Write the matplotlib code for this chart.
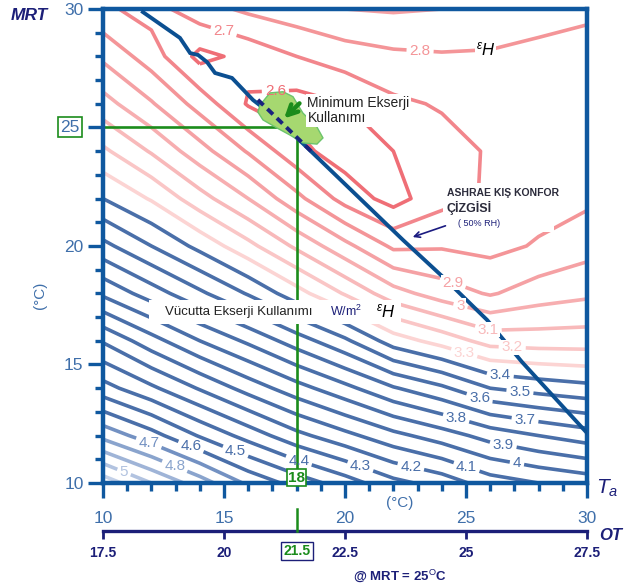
import numpy as np
import matplotlib
matplotlib.use('Agg')
import matplotlib.pyplot as plt
from matplotlib.patches import Polygon, Rectangle
from matplotlib.lines import Line2D

plt.rcParams['font.family'] = ['Liberation Sans', 'DejaVu Sans']
plt.rcParams['mathtext.fontset'] = 'custom'
plt.rcParams['mathtext.it'] = 'Liberation Sans:italic'
plt.rcParams['mathtext.rm'] = 'Liberation Sans'
plt.rcParams['mathtext.bf'] = 'Liberation Sans:bold'

W, H = 626, 585

# air temperature Ta (x) and mean radiant temperature MRT (y), degC
ta_grid = [10, 12, 14, 16, 18, 20, 22, 24, 26, 28, 30]
mrt_grid = [10, 12, 14, 16, 18, 20, 22, 24, 26, 28, 30]

# body exergy consumption rate (W/m2), one row per MRT
exergy = [
    [5.16, 5.00, 4.85, 4.68, 4.56, 4.45, 4.33, 4.26, 4.15, 4.10, 4.06],
    [4.77, 4.64, 4.49, 4.36, 4.23, 4.13, 4.03, 3.95, 3.86, 3.80, 3.75],
    [4.44, 4.32, 4.19, 4.06, 3.94, 3.83, 3.71, 3.62, 3.50, 3.46, 3.43],
    [4.19, 4.04, 3.90, 3.78, 3.65, 3.52, 3.35, 3.26, 3.16, 3.15, 3.15],
    [3.88, 3.75, 3.62, 3.49, 3.34, 3.19, 3.04, 2.95, 2.89, 2.95, 2.98],
    [3.63, 3.50, 3.37, 3.23, 3.08, 2.93, 2.78, 2.79, 2.77, 2.81, 2.86],
    [3.40, 3.29, 3.14, 3.00, 2.83, 2.66, 2.56, 2.67, 2.71, 2.76, 2.78],
    [3.22, 3.09, 2.94, 2.79, 2.63, 2.55, 2.60, 2.66, 2.71, 2.74, 2.76],
    [3.04, 2.91, 2.76, 2.59, 2.56, 2.60, 2.68, 2.71, 2.74, 2.75, 2.76],
    [2.88, 2.75, 2.57, 2.63, 2.70, 2.75, 2.78, 2.79, 2.79, 2.78, 2.78],
    [2.72, 2.66, 2.76, 2.82, 2.86, 2.90, 2.91, 2.90, 2.86, 2.83, 2.81],
]

levels = [2.6, 2.7, 2.8, 2.9, 3.0, 3.1, 3.2, 3.3, 3.4, 3.5, 3.6, 3.7, 3.8,
          3.9, 4.0, 4.1, 4.2, 4.3, 4.4, 4.5, 4.6, 4.7, 4.8, 4.9, 5.0, 5.1]
level_colors = ['#ef6e76', '#f2868c', '#f49598', '#f5a1a4', '#f7aeb0', '#f8b9ba',
                '#fac6c6', '#fcd4d3'] + ['#4a6fa9'] * 13 + \
               ['#7391c2', '#8aa4cd', '#9fb4d7', '#b2c3e0', '#c4d1e8']

# where each contour value is written (Ta, MRT)
label_pos = {
    2.6: (17.1, 27.2), 2.7: (15.0, 29.1), 2.8: (23.1, 28.2), 2.9: (24.4, 18.3),
    3.0: (24.8, 17.6), 3.1: (25.9, 16.4), 3.2: (26.9, 15.5), 3.3: (24.9, 15.4),
    3.4: (26.4, 14.4), 3.5: (27.2, 13.6), 3.6: (25.5, 13.4), 3.7: (27.4, 12.4),
    3.8: (24.5, 12.4), 3.9: (26.5, 11.4), 4.0: (27.1, 10.8), 4.1: (25.0, 10.6),
    4.2: (22.7, 10.6), 4.3: (20.6, 10.6), 4.4: (18.1, 10.97), 4.5: (15.5, 11.4),
    4.6: (13.7, 11.7), 4.7: (12.0, 12.0), 4.8: (13.1, 11.05), 5.0: (11.1, 11.05),
}

# ASHRAE winter comfort line (50% RH)
ashrae_ta = [11.65, 13.18, 13.60, 13.93, 14.30, 14.63, 15.33, 16.20, 16.90,
             18.02, 22.40, 24.05, 25.87, 27.31, 30.0]
ashrae_mrt = [29.87, 28.78, 28.14, 28.06, 27.76, 27.30, 27.09, 26.16, 25.61,
              24.56, 20.25, 18.69, 16.88, 15.11, 12.11]

# minimum exergy consumption zone
blob_ta = [16.49, 16.90, 17.44, 17.85, 18.26, 18.84, 19.09, 18.84, 18.26,
           17.73, 17.19, 16.61, 16.40]
blob_mrt = [25.95, 26.46, 26.51, 26.30, 25.61, 25.02, 24.56, 24.30, 24.35,
            24.68, 24.98, 25.32, 25.65]

x_ticks = [10, 15, 20, 25, 30]
y_ticks = [10, 15, 20, 25, 30]
y_tick_labels = ['10', '15', '20', '', '30']
ot_ticks = [17.5, 20, 22.5, 25, 27.5]
ot_tick_labels = ['17.5', '20', '22.5', '25', '27.5']
sel_ta, sel_mrt, sel_ot = 18, 25, 21.5

spine_c = '#0f589f'
tick_c = '#3f6faa'
navy = '#1c1f78'
green = '#1b8c1b'


def fpos(x, y):
    return x / W, 1 - y / H


fig = plt.figure(figsize=(W / 100, H / 100), dpi=100)
ax = fig.add_axes([103 / W, 1 - 483 / H, 484 / W, 474 / H])
ax.set_xlim(10, 30)
ax.set_ylim(10, 30)

field = np.array(exergy)
for lv, col in zip(levels, level_colors):
    cs = ax.contour(ta_grid, mrt_grid, field, levels=[lv], colors=[col],
                    linewidths=2.6, zorder=2)
    if lv in label_pos:
        txts = ax.clabel(cs, manual=[label_pos[lv]], inline=True,
                         inline_spacing=3, fmt='%g', fontsize=11)
        t = txts[-1]
        t.set_rotation(0)
        t.set_zorder(6)
        if lv in (2.9, 3.0, 3.1, 3.2):
            t.set_bbox(dict(fc='white', ec='none', pad=0.5))

# comfort line, minimum zone, selected point
ax.plot(ashrae_ta, ashrae_mrt, color='#0b4f91', lw=2.8, zorder=4,
        solid_joinstyle='miter')
ax.add_patch(Polygon(np.column_stack([blob_ta, blob_mrt]), closed=True,
                     fc='#a6d870', ec='#6cc46c', lw=1, zorder=4.5))
ax.plot([16.4, 18.6], [26.17, 24.0], color='#1a237e', lw=2.8, ls=(0, (2, 1.4)),
        zorder=4.6)
ax.plot([10, sel_ta], [sel_mrt, sel_mrt], color=green, lw=1.9, zorder=2.5)
ax.plot([sel_ta, sel_ta], [sel_mrt, 10], color=green, lw=1.9, zorder=2.5)
ax.annotate('', xy=(17.4, 25.3), xytext=(18.2, 26.1),
            arrowprops=dict(arrowstyle='->', color=green, lw=3.2,
                            mutation_scale=18), zorder=5)

# text boxes inside the plot
ax.text(18.45, 26.35, 'Minimum Ekserji\nKullanımı', fontsize=10, color='#222222',
        va='top', ha='left', linespacing=1.15, zorder=7,
        bbox=dict(fc='white', ec='none', pad=1))
ax.add_patch(Rectangle((24.05, 20.6), 4.6, 2.05, fc='white', ec='none', zorder=3))
ax.text(24.2, 22.25, 'ASHRAE KIŞ KONFOR', fontsize=7.5, fontweight='bold',
        color='#2b2b3b', va='center', zorder=7)
ax.text(24.2, 21.6, 'ÇİZGİSİ', fontsize=9, fontweight='bold', color='#2b2b3b',
        va='center', zorder=7)
ax.text(24.65, 20.93, '( 50% RH)', fontsize=6.5, color=navy, va='center', zorder=7)
ax.annotate('', xy=(22.69, 20.34), xytext=(24.26, 20.89),
            arrowprops=dict(arrowstyle='->', color='#1a1a80', lw=1.2), zorder=7)

ax.add_patch(Rectangle((11.9, 16.72), 10.4, 1.0, fc='white', ec='none', zorder=3))
ax.text(12.56, 17.22, 'Vücutta Ekserji Kullanımı', fontsize=9.5, color='#222222',
        va='center', zorder=7)
ax.text(19.4, 17.22, 'W/m$^{2}$', fontsize=9, color=navy, va='center', zorder=7)
ax.text(21.3, 17.25, r'${}^{\varepsilon}H$', fontsize=12, color='black',
        va='center', zorder=7)
ax.text(25.4, 28.3, r'${}^{\varepsilon}H$', fontsize=12, color='black',
        va='center', zorder=7, bbox=dict(fc='white', ec='none', pad=0.5))
ax.text(sel_ta, 10.22, str(sel_ta), fontsize=11, fontweight='bold', color=green,
        ha='center', va='center', zorder=8, clip_on=False,
        bbox=dict(fc='white', ec=green, lw=1.2, pad=1))

# axes styling
for s in ax.spines.values():
    s.set_color(spine_c)
    s.set_linewidth(3.2)
ax.set_xticks(x_ticks)
ax.set_xticks(range(10, 31), minor=True)
ax.set_yticks(y_ticks)
ax.set_yticks(range(10, 31), minor=True)
ax.set_yticklabels(y_tick_labels)
ax.tick_params(which='both', direction='out', color=spine_c, width=2.4)
ax.tick_params(which='major', length=11)
ax.tick_params(which='minor', length=6)
ax.tick_params(axis='x', labelsize=12.5, labelcolor=tick_c, pad=9)
ax.tick_params(axis='y', labelsize=12.5, labelcolor=tick_c, pad=3)

# operative temperature scale at MRT = 25 C
sec = ax.secondary_xaxis(-48 / 474, functions=(lambda t: (t + sel_mrt) / 2,
                                               lambda o: 2 * o - sel_mrt))
sec.set_xticks(ot_ticks)
sec.set_xticklabels(ot_tick_labels, fontweight='bold')
sec.spines['bottom'].set_color(navy)
sec.spines['bottom'].set_linewidth(2.4)
sec.tick_params(axis='x', colors=navy, length=6, width=2, labelsize=10, pad=5)

fig.add_artist(Line2D([297 / W, 297 / W], [1 - 531 / H, 1 - 509 / H],
                      color=green, lw=1.8))
fig.text(*fpos(297, 551), str(sel_ot), fontsize=10, fontweight='bold', color=green,
         ha='center', va='center',
         bbox=dict(fc='white', ec=navy, lw=1, pad=1.5))
fig.text(*fpos(70, 127), str(sel_mrt), fontsize=12.5, color=tick_c, ha='center',
         va='center', bbox=dict(fc='white', ec=green, lw=1.2, pad=1.5))

fig.text(*fpos(29, 16), 'MRT', fontsize=12.5, style='italic', fontweight='bold',
         color=navy, ha='center', va='center')
fig.text(*fpos(40, 295), '(°C)', fontsize=11, color=tick_c, rotation=90,
         ha='center', va='center')
fig.text(*fpos(400, 503), '(°C)', fontsize=11, color=tick_c, ha='center',
         va='center')
fig.text(*fpos(607, 488), r'$T_a$', fontsize=15, color=navy, ha='center',
         va='center')
fig.text(*fpos(611, 535), 'OT', fontsize=12, style='italic', fontweight='bold',
         color=navy, ha='center', va='center')
fig.text(*fpos(400, 576), r'@ MRT = 25$^{\mathrm{O}}$C', fontsize=9.5,
         fontweight='bold', color=navy, ha='center', va='center')

fig.savefig('out.png', dpi=100)
